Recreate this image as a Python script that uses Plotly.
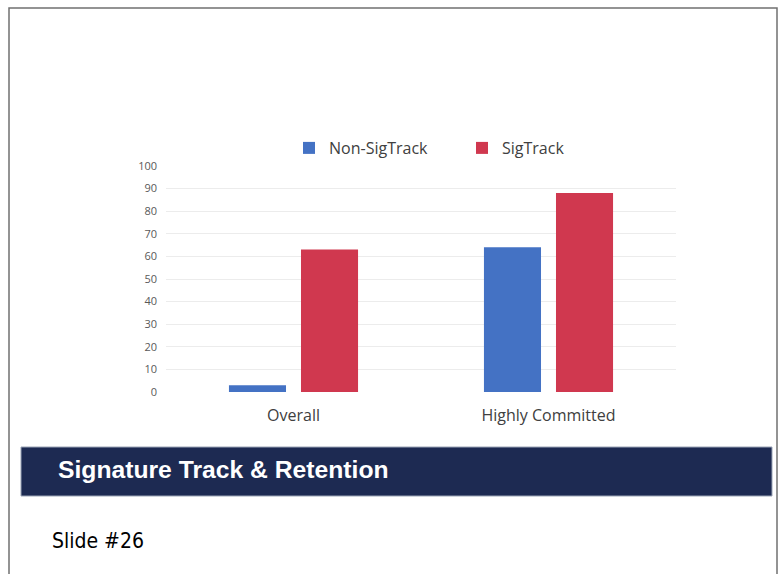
import plotly.graph_objects as go

categories = ["Overall", "Highly Committed"]
non_sigtrack = [3, 64]
sigtrack = [63, 88]
y_ticks = [0, 10, 20, 30, 40, 50, 60, 70, 80, 90, 100]

W, H = 779, 574
L, R, T, B = 166, 676, 166, 392  # plot area in px


def px(x):
    return (x - L) / (R - L)


def py(y):
    return (B - y) / (B - T)


fig = go.Figure()
fig.add_trace(go.Bar(name="Non-SigTrack", x=categories, y=non_sigtrack,
                     marker=dict(color="#4472C4", line=dict(width=0))))
fig.add_trace(go.Bar(name="SigTrack", x=categories, y=sigtrack,
                     marker=dict(color="#D0384F", line=dict(width=0))))

fig.update_layout(
    width=W, height=H,
    margin=dict(l=L, r=W - R, t=T, b=H - B, pad=0),
    paper_bgcolor="white", plot_bgcolor="white",
    barmode="group", bargap=0.435, bargroupgap=0.208,
    font=dict(family="Open Sans, Lato, sans-serif", color="#404040"),
    showlegend=True,
    legend=dict(orientation="h", x=px(289), xanchor="left", y=py(148), yanchor="middle",
                font=dict(size=16, color="#404040"), entrywidth=128,
                bgcolor="rgba(0,0,0,0)", borderwidth=0, traceorder="normal"),
    xaxis=dict(showgrid=False, showline=False, zeroline=False, ticks="",
               tickfont=dict(size=16, color="#404040"), ticklabelstandoff=12,
               fixedrange=True),
    yaxis=dict(range=[0, 100], tickvals=y_ticks, showgrid=True, gridcolor="#ececec",
               gridwidth=1, zeroline=False, showline=False, ticks="",
               tickfont=dict(size=11, color="#595959"), ticklabelstandoff=8,
               fixedrange=True),
)

# outer frame
fig.add_shape(type="rect", xref="paper", yref="paper",
              x0=px(9), x1=px(777), y0=py(590), y1=py(8),
              line=dict(color="#707070", width=1.5), fillcolor="rgba(0,0,0,0)", layer="below")
# banner
fig.add_shape(type="rect", xref="paper", yref="paper",
              x0=px(21), x1=px(772), y0=py(496), y1=py(447),
              line=dict(color="#9aa3b5", width=1), fillcolor="#1d2a52", layer="above")
fig.add_annotation(xref="paper", yref="paper", x=px(56), y=py(470), xanchor="left", yanchor="middle",
                   text="<b>Signature Track &amp; Retention</b>", showarrow=False,
                   font=dict(family="Liberation Sans, Arial, sans-serif", size=24.7, color="white"))
fig.add_annotation(xref="paper", yref="paper", x=px(50), y=py(541), xanchor="left", yanchor="middle",
                   text="Slide #26", showarrow=False,
                   font=dict(family="Liberation Sans Narrow, DejaVu Sans Condensed, sans-serif", size=21, color="black"))

fig.write_html("out.html")
